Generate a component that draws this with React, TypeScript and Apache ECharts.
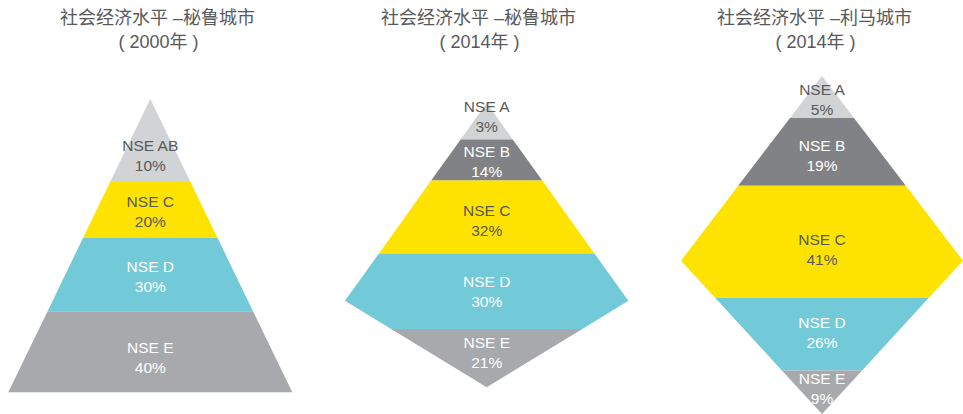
import React, { useEffect, useRef } from "react";
import * as echarts from "echarts";

// ---- data ----
const titles = ["社会经济水平 –秘鲁城市", "社会经济水平 –秘鲁城市", "社会经济水平 –利马城市"];
const subtitles = ["( 2000年 )", "( 2014年 )", "( 2014年 )"];

const peru2000Names = ["NSE AB", "NSE C", "NSE D", "NSE E"];
const peru2000Values = [10, 20, 30, 40];

const peru2014Names = ["NSE A", "NSE B", "NSE C", "NSE D", "NSE E"];
const peru2014Values = [3, 14, 32, 30, 21];

const lima2014Names = ["NSE A", "NSE B", "NSE C", "NSE D", "NSE E"];
const lima2014Values = [5, 19, 41, 26, 9];

// ---- layout (shape outlines, band edges, label positions; fraction of shape height) ----
const profiles = [
  [[0, 0], [1, 1]],
  [[0, 0], [0.696, 1], [1, 0]],
  [[0, 0], [0.5465, 1], [1, 0]],
];
const bandEdges = [
  [0, 0.283, 0.474, 0.725, 1],
  [0, 0.128, 0.273, 0.529, 0.795, 1],
  [0, 0.124, 0.325, 0.657, 0.871, 1],
];
const labelAt = [
  [0.193, 0.382, 0.605, 0.881],
  [0.048, 0.205, 0.413, 0.664, 0.879],
  [0.071, 0.235, 0.514, 0.759, 0.926],
];
const grids = [
  { left: 8.3, top: 99, width: 284, height: 293.3 },
  { left: 345, top: 103, width: 283.4, height: 284.3 },
  { left: 681, top: 76, width: 282, height: 338.5 },
];
const titleCenters = [157.5, 478.5, 814.5];

const LIGHT = "#d1d3d4";
const DARK = "#808285";
const YELLOW = "#ffe300";
const TEAL = "#72c9d8";
const MID = "#a7a9ac";
const TEXT_DARK = "#58595b";
const WHITE = "#ffffff";

const fills = [
  [LIGHT, YELLOW, TEAL, MID],
  [LIGHT, DARK, YELLOW, TEAL, MID],
  [LIGHT, DARK, YELLOW, TEAL, MID],
];
const textColors = [
  [TEXT_DARK, TEXT_DARK, WHITE, WHITE],
  [TEXT_DARK, WHITE, TEXT_DARK, WHITE, WHITE],
  [TEXT_DARK, WHITE, TEXT_DARK, WHITE, WHITE],
];

const FONT = "'Liberation Sans', Arial, 'Noto Sans CJK SC', sans-serif";

function halfWidth(profile: number[][], t: number): number {
  for (let i = 0; i < profile.length - 1; i++) {
    const [t0, w0] = profile[i];
    const [t1, w1] = profile[i + 1];
    if (t >= t0 && t <= t1) {
      return w0 + ((w1 - w0) * (t - t0)) / (t1 - t0 || 1);
    }
  }
  return 0;
}

function makeSeries(ci: number, names: string[], values: number[]) {
  const profile = profiles[ci];
  const edges = bandEdges[ci];
  const data = values.map((v, i) => [edges[i], edges[i + 1], labelAt[ci][i], v]);
  return {
    type: "custom",
    xAxisIndex: ci,
    yAxisIndex: ci,
    clip: false,
    data,
    renderItem: (params: any, api: any) => {
      const i = params.dataIndex;
      const t0 = api.value(0);
      const t1 = api.value(1);
      const tl = api.value(2);
      const v = api.value(3);
      const ts: number[] = [t0];
      profile.forEach((p) => {
        if (p[0] > t0 && p[0] < t1) ts.push(p[0]);
      });
      ts.push(t1);
      const left = ts.map((t) => api.coord([-halfWidth(profile, t), t]));
      const right = ts
        .slice()
        .reverse()
        .map((t) => api.coord([halfWidth(profile, t), t]));
      const pts = left.concat(right);
      const c = api.coord([0, tl]);
      return {
        type: "group",
        children: [
          {
            type: "polygon",
            shape: { points: pts },
            style: { fill: fills[ci][i], stroke: null },
          },
          {
            type: "text",
            x: c[0],
            y: c[1],
            style: {
              text: names[i] + "\n" + v + "%",
              fill: textColors[ci][i],
              font: "15.5px " + FONT,
              lineHeight: 20,
              align: "center",
              verticalAlign: "middle",
            },
          },
        ],
      };
    },
  };
}

export default function App() {
  const ref = useRef<HTMLDivElement>(null);
  useEffect(() => {
    if (!ref.current) return;
    const chart = echarts.init(ref.current, undefined, { renderer: "svg" });
    const graphic: any[] = [];
    titles.forEach((t, i) => {
      graphic.push({
        type: "text",
        x: titleCenters[i],
        y: 18.3,
        style: {
          text: t,
          fill: TEXT_DARK,
          font: "18px " + FONT,
          align: "center",
          verticalAlign: "middle",
        },
      });
      graphic.push({
        type: "text",
        x: titleCenters[i] + 1,
        y: 41.7,
        style: {
          text: subtitles[i],
          fill: TEXT_DARK,
          font: "18px " + FONT,
          align: "center",
          verticalAlign: "middle",
        },
      });
    });
    chart.setOption({
      animation: false,
      grid: grids.map((g) => ({ ...g, containLabel: false })),
      xAxis: grids.map((_, i) => ({
        type: "value",
        gridIndex: i,
        min: -1,
        max: 1,
        show: false,
      })),
      yAxis: grids.map((_, i) => ({
        type: "value",
        gridIndex: i,
        min: 0,
        max: 1,
        inverse: true,
        show: false,
      })),
      graphic,
      series: [
        makeSeries(0, peru2000Names, peru2000Values),
        makeSeries(1, peru2014Names, peru2014Values),
        makeSeries(2, lima2014Names, lima2014Values),
      ],
    });
    return () => chart.dispose();
  }, []);
  return (
    <div
      ref={ref}
      style={{ position: "fixed", left: 0, top: 0, width: 963, height: 414, background: "#fff" }}
    />
  );
}
